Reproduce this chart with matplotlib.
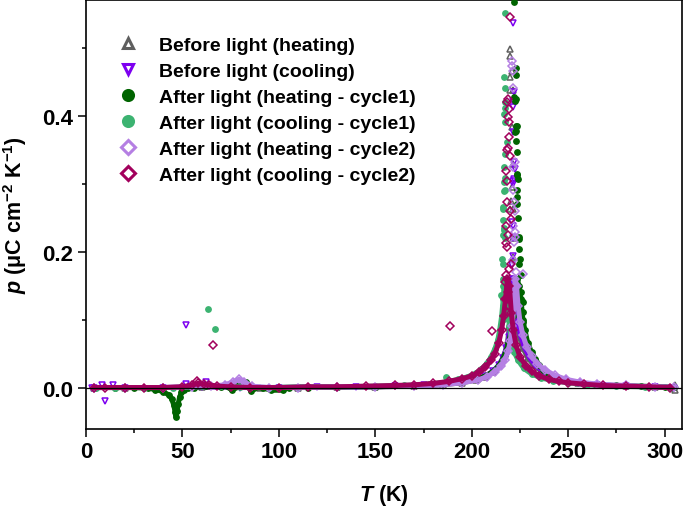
import matplotlib
matplotlib.use('Agg')
import matplotlib.pyplot as plt
from matplotlib.lines import Line2D

plt.rcParams['font.family'] = ['Liberation Sans', 'DejaVu Sans']
plt.rcParams['font.weight'] = 'bold'
plt.rcParams['axes.labelweight'] = 'bold'
plt.rcParams['mathtext.fontset'] = 'custom'
plt.rcParams['mathtext.rm'] = 'Liberation Sans:bold'
plt.rcParams['mathtext.it'] = 'Liberation Sans:italic:bold'
plt.rcParams['mathtext.bf'] = 'Liberation Sans:bold'

# ---------------- data ----------------
labels = ["Before light (heating)", "Before light (cooling)",
          "After light (heating - cycle1)", "After light (cooling - cycle1)",
          "After light (heating - cycle2)", "After light (cooling - cycle2)"]

x_ticks = [0, 50, 100, 150, 200, 250, 300]
y_ticks = [0.0, 0.2, 0.4]
y_ticklabels = ["0.0", "0.2", "0.4"]

# Before light (heating) - smooth band
T_gray = [4, 20, 40, 60, 72, 78, 80, 83, 90, 110, 130, 150, 170, 185, 195, 202, 207, 211, 214, 216,
          217.5, 218.7, 219.5, 220.2, 220.8, 221.5, 222.2, 223.2, 224.6, 226.5, 229, 232, 236, 241, 247,
          255, 265, 280, 295, 305]
p_gray = [0.000, 0.000, 0.000, 0.001, 0.002, 0.008, 0.009, 0.004, 0.000, 0.000, 0.001, 0.001, 0.002,
          0.004, 0.007, 0.011, 0.016, 0.023, 0.032, 0.042, 0.054, 0.070, 0.090, 0.120, 0.160, 0.150,
          0.120, 0.095, 0.075, 0.058, 0.044, 0.033, 0.024, 0.016, 0.011, 0.007, 0.004, 0.002, 0.001, 0.001]
# Before light (heating) - scattered points
Ts_gray = [219.9, 219.9, 220.8, 219.9, 219.9, 221.2, 220.8, 221.2, 220.7, 220.6, 221.5, 219.6, 221.3,
           221.2, 221.8, 305.2, 305.2]
ps_gray = [0.498, 0.488, 0.465, 0.457, 0.438, 0.437, 0.383, 0.329, 0.295, 0.275, 0.263, 0.263, 0.220,
           0.192, 0.160, 0.003, -0.004]

# Before light (cooling)
T_violet = [4, 20, 40, 60, 80, 100, 120, 140, 160, 175, 185, 195, 202, 207, 211, 214, 216, 218, 219.3,
            220.2, 221, 221.6, 222.3, 223, 224, 225.5, 227.5, 230, 233, 237, 242, 248, 255, 265, 280,
            295, 305]
p_violet = [0.000, 0.000, 0.000, 0.001, 0.000, 0.000, 0.001, 0.001, 0.002, 0.003, 0.005, 0.008, 0.012,
            0.017, 0.024, 0.033, 0.043, 0.058, 0.075, 0.095, 0.120, 0.160, 0.150, 0.120, 0.095, 0.075,
            0.058, 0.044, 0.033, 0.024, 0.016, 0.011, 0.007, 0.004, 0.002, 0.001, 0.000]
Ts_violet = [221.2, 222.1, 221.2, 221.3, 221.5, 221.9, 222.4, 221.7, 221.6, 221.2, 221.0, 221.2, 221.5,
             221.6, 221.0, 221.3, 51.9, 10.0, 2.9, 8.1, 14.1, 51.9, 62.2]
ps_violet = [0.536, 0.434, 0.422, 0.413, 0.376, 0.331, 0.322, 0.306, 0.300, 0.304, 0.243, 0.238, 0.220,
             0.194, 0.180, 0.130, 0.092, -0.020, -0.001, 0.004, 0.004, 0.005, 0.008]

# After light (heating - cycle1)
T_dkgreen = [4, 15, 25, 32, 36, 40, 43, 44.5, 45.5, 46.2, 46.6, 47.2, 47.8, 48.5, 49.5, 51, 53, 56, 62,
             70, 74, 75.5, 77, 80, 82.8, 84, 85.4, 87, 92, 96, 102, 105, 115, 130, 150, 170, 185, 195,
             203, 208, 212, 215, 217, 219, 220.5, 221.5, 222.5, 223.5, 224.5, 225.5, 226.5, 227.6, 229,
             231, 233, 235, 237, 240, 244, 250, 257, 265, 275, 288, 300, 305]
p_dkgreen = [0.000, 0.000, 0.000, -0.001, -0.003, -0.006, -0.011, -0.017, -0.026, -0.036, -0.043,
             -0.035, -0.024, -0.014, -0.007, -0.003, -0.001, 0.000, 0.002, 0.001, 0.001, -0.004, 0.001,
             0.004, 0.008, 0.003, -0.005, 0.000, -0.001, -0.004, -0.004, 0.000, 0.000, 0.001, 0.001,
             0.003, 0.005, 0.008, 0.013, 0.018, 0.026, 0.036, 0.048, 0.065, 0.085, 0.105, 0.130, 0.160,
             0.150, 0.130, 0.100, 0.084, 0.066, 0.052, 0.042, 0.033, 0.026, 0.019, 0.013, 0.009, 0.006,
             0.004, 0.003, 0.002, 0.001, 0.001]
Ts_dkgreen = [222.1, 222.8, 222.7, 222.1, 223.0, 222.4, 222.8, 223.2, 222.9, 222.4, 223.1, 223.2, 223.5,
              223.7, 223.9, 223.6, 223.7, 223.5, 224.0, 224.5, 224.6, 224.6, 225.0, 224.6, 225.5, 225.5,
              226.4, 226.4, 225.9, 226.7]
ps_dkgreen = [0.567, 0.470, 0.460, 0.427, 0.425, 0.422, 0.385, 0.385, 0.377, 0.376, 0.363, 0.346, 0.314,
              0.312, 0.307, 0.290, 0.280, 0.270, 0.250, 0.219, 0.221, 0.204, 0.189, 0.182, 0.165, 0.140,
              0.126, 0.111, 0.128, 0.096]

# After light (cooling - cycle1)
T_mdgreen = [5, 15, 30, 45, 60, 70, 80, 95, 110, 130, 150, 165, 178, 186.6, 193, 198, 202, 205, 208, 210,
             212, 213.5, 214.5, 215.5, 216.3, 217, 217.8, 218.7, 219.5, 220.5, 222, 224, 227, 231, 236,
             242, 250, 260, 275, 290, 303]
p_mdgreen = [0.000, 0.000, 0.000, 0.000, 0.002, 0.002, 0.001, 0.000, 0.001, 0.001, 0.002, 0.003, 0.005,
             0.008, 0.012, 0.016, 0.021, 0.027, 0.036, 0.045, 0.057, 0.070, 0.085, 0.105, 0.130, 0.160,
             0.160, 0.120, 0.090, 0.070, 0.052, 0.040, 0.028, 0.020, 0.014, 0.010, 0.007, 0.004, 0.002,
             0.001, 0.000]
Ts_mdgreen = [217.3, 216.9, 217.2, 217.1, 217.0, 216.5, 217.1, 218.2, 217.1, 216.5, 217.0, 216.7, 216.6,
              217.1, 216.3, 216.1, 216.2, 216.8, 216.6, 216.0, 217.2, 215.6, 216.3, 216.0, 216.4, 215.9,
              216.1, 216.5, 215.2, 63.1, 66.9, 186.6]
ps_mdgreen = [0.551, 0.457, 0.440, 0.420, 0.411, 0.402, 0.391, 0.361, 0.344, 0.324, 0.308, 0.302, 0.289,
              0.290, 0.265, 0.263, 0.246, 0.234, 0.231, 0.224, 0.220, 0.189, 0.182, 0.160, 0.150, 0.135,
              0.120, 0.101, 0.136, 0.115, 0.086, 0.015]

# After light (heating - cycle2)
T_ltpurple = [4, 20, 40, 55, 65, 72, 76, 79.3, 82, 86, 95, 110, 130, 150, 170, 185, 195, 203, 208, 212,
              215, 217, 218.8, 220, 221, 221.8, 222.5, 223.2, 224, 225, 226.5, 228.5, 231, 234, 238, 243,
              249, 256, 265, 280, 295, 305]
p_ltpurple = [0.000, 0.000, 0.000, 0.001, 0.002, 0.004, 0.008, 0.012, 0.008, 0.002, 0.000, 0.000, 0.001,
              0.001, 0.002, 0.004, 0.007, 0.011, 0.016, 0.023, 0.031, 0.040, 0.053, 0.068, 0.090, 0.120,
              0.160, 0.150, 0.120, 0.097, 0.077, 0.060, 0.046, 0.035, 0.026, 0.018, 0.012, 0.008, 0.005,
              0.003, 0.001, 0.001]
Ts_ltpurple = [220.7, 220.9, 221.2, 221.4, 222.4, 221.5, 221.2, 222.1, 222.6, 221.2, 222.4, 222.4, 222.0,
               221.2, 226.4, 222.8, 223.0]
ps_ltpurple = [0.481, 0.473, 0.466, 0.440, 0.331, 0.325, 0.290, 0.273, 0.260, 0.238, 0.229, 0.221, 0.214,
               0.187, 0.167, 0.170, 0.150]

# After light (cooling - cycle2)
T_magenta = [4, 10, 20, 30, 40, 50, 55, 58, 61, 64, 68, 75, 85, 100, 115, 130, 145, 160, 170, 180, 188,
             195, 200, 204, 207, 210, 212, 214, 215.5, 216.5, 217.5, 218.5, 219.5, 220.5, 221.5, 223, 225,
             228, 231, 235, 240, 245, 250, 258, 268, 280, 292, 303]
p_magenta = [0.000, 0.000, 0.000, 0.000, 0.000, 0.001, 0.004, 0.006, 0.005, 0.004, 0.002, 0.001, 0.000,
             0.000, 0.001, 0.001, 0.002, 0.003, 0.004, 0.006, 0.009, 0.013, 0.017, 0.023, 0.030, 0.040,
             0.050, 0.066, 0.085, 0.105, 0.130, 0.160, 0.150, 0.110, 0.085, 0.062, 0.045, 0.032, 0.024,
             0.017, 0.012, 0.009, 0.007, 0.005, 0.003, 0.002, 0.001, 0.000]
Ts_magenta = [219.9, 219.0, 218.2, 219.3, 218.8, 219.5, 219.2, 218.7, 218.3, 219.6, 217.9, 218.1, 218.5,
              219.8, 220.2, 217.6, 218.9, 217.5, 218.2, 220.4, 217.8, 219.4, 217.4, 218.6, 217.3, 219.0,
              218.3, 188.8, 210.7, 65.9, 57.4]
ps_magenta = [0.545, 0.425, 0.420, 0.410, 0.398, 0.390, 0.368, 0.353, 0.349, 0.340, 0.319, 0.304, 0.273,
              0.260, 0.248, 0.238, 0.225, 0.212, 0.206, 0.182, 0.165, 0.175, 0.155, 0.140, 0.130, 0.120,
              0.111, 0.091, 0.083, 0.063, 0.010]

# ---------------- figure ----------------
fig = plt.figure(figsize=(6.85, 5.10), dpi=100)
ax = fig.add_axes([86 / 685, 80 / 510, 596 / 685, 429 / 510])

styles = [
    # (T, p, Ts, ps, color, marker, filled, ms)
    (T_gray, p_gray, Ts_gray, ps_gray, '#5f5f5f', '^', False, 4.0),
    (T_violet, p_violet, Ts_violet, ps_violet, '#7d00f0', 'v', False, 4.0),
    (T_dkgreen, p_dkgreen, Ts_dkgreen, ps_dkgreen, '#006400', 'o', True, 3.8),
    (T_mdgreen, p_mdgreen, Ts_mdgreen, ps_mdgreen, '#3cb371', 'o', True, 3.8),
    (T_ltpurple, p_ltpurple, Ts_ltpurple, ps_ltpurple, '#b57fe3', 'D', False, 3.8),
    (T_magenta, p_magenta, Ts_magenta, ps_magenta, '#a2005c', 'D', False, 3.8),
]

handles = []
for i, (T, p, Ts, ps, c, m, filled, ms) in enumerate(styles):
    fc = c if filled else 'none'
    z = 3 + i
    ax.plot(T, p, color=c, lw=3.6, marker=m, ms=ms, mfc=fc, mec=c, mew=1.1,
            solid_joinstyle='round', solid_capstyle='round', zorder=z)
    ax.plot(Ts, ps, linestyle='none', marker=m, ms=ms, mfc=fc, mec=c, mew=1.1, zorder=z)
    handles.append(Line2D([], [], linestyle='none', marker=m, ms=ms * 1.9 if filled else ms * 1.8,
                          mfc=fc, mec=c, mew=2.2, label=labels[i]))

ax.axhline(0, color='black', lw=0.9, zorder=20)

ax.set_xlim(0, 309)
ax.set_ylim(-0.061, 0.570)
ax.set_xticks(x_ticks)
ax.set_xticks([25, 75, 125, 175, 225, 275], minor=True)
ax.set_yticks(y_ticks)
ax.set_yticklabels(y_ticklabels)
ax.set_yticks([0.1, 0.3, 0.5], minor=True)
ax.tick_params(which='major', direction='out', length=6, width=1.1, labelsize=16, pad=3)
ax.tick_params(which='minor', direction='out', length=3.2, width=1.1)
for s in ax.spines.values():
    s.set_linewidth(1.2)
for lab in ax.get_xticklabels() + ax.get_yticklabels():
    lab.set_fontweight('bold')

ax.set_xlabel(r'$\it{T}$ (K)', fontsize=15.5, labelpad=14)
ax.set_ylabel(r'$\it{p}$ (μC cm$^{-2}$ K$^{-1}$)', fontsize=15.5, labelpad=10)

leg = ax.legend(handles=handles, loc='upper left', bbox_to_anchor=(0.054, 0.915),
                frameon=False, prop={'weight': 'bold', 'size': 14},
                handlelength=1.0, handletextpad=1.1, labelspacing=0.43,
                borderpad=0, borderaxespad=0)

fig.savefig('out.png', dpi=100)
